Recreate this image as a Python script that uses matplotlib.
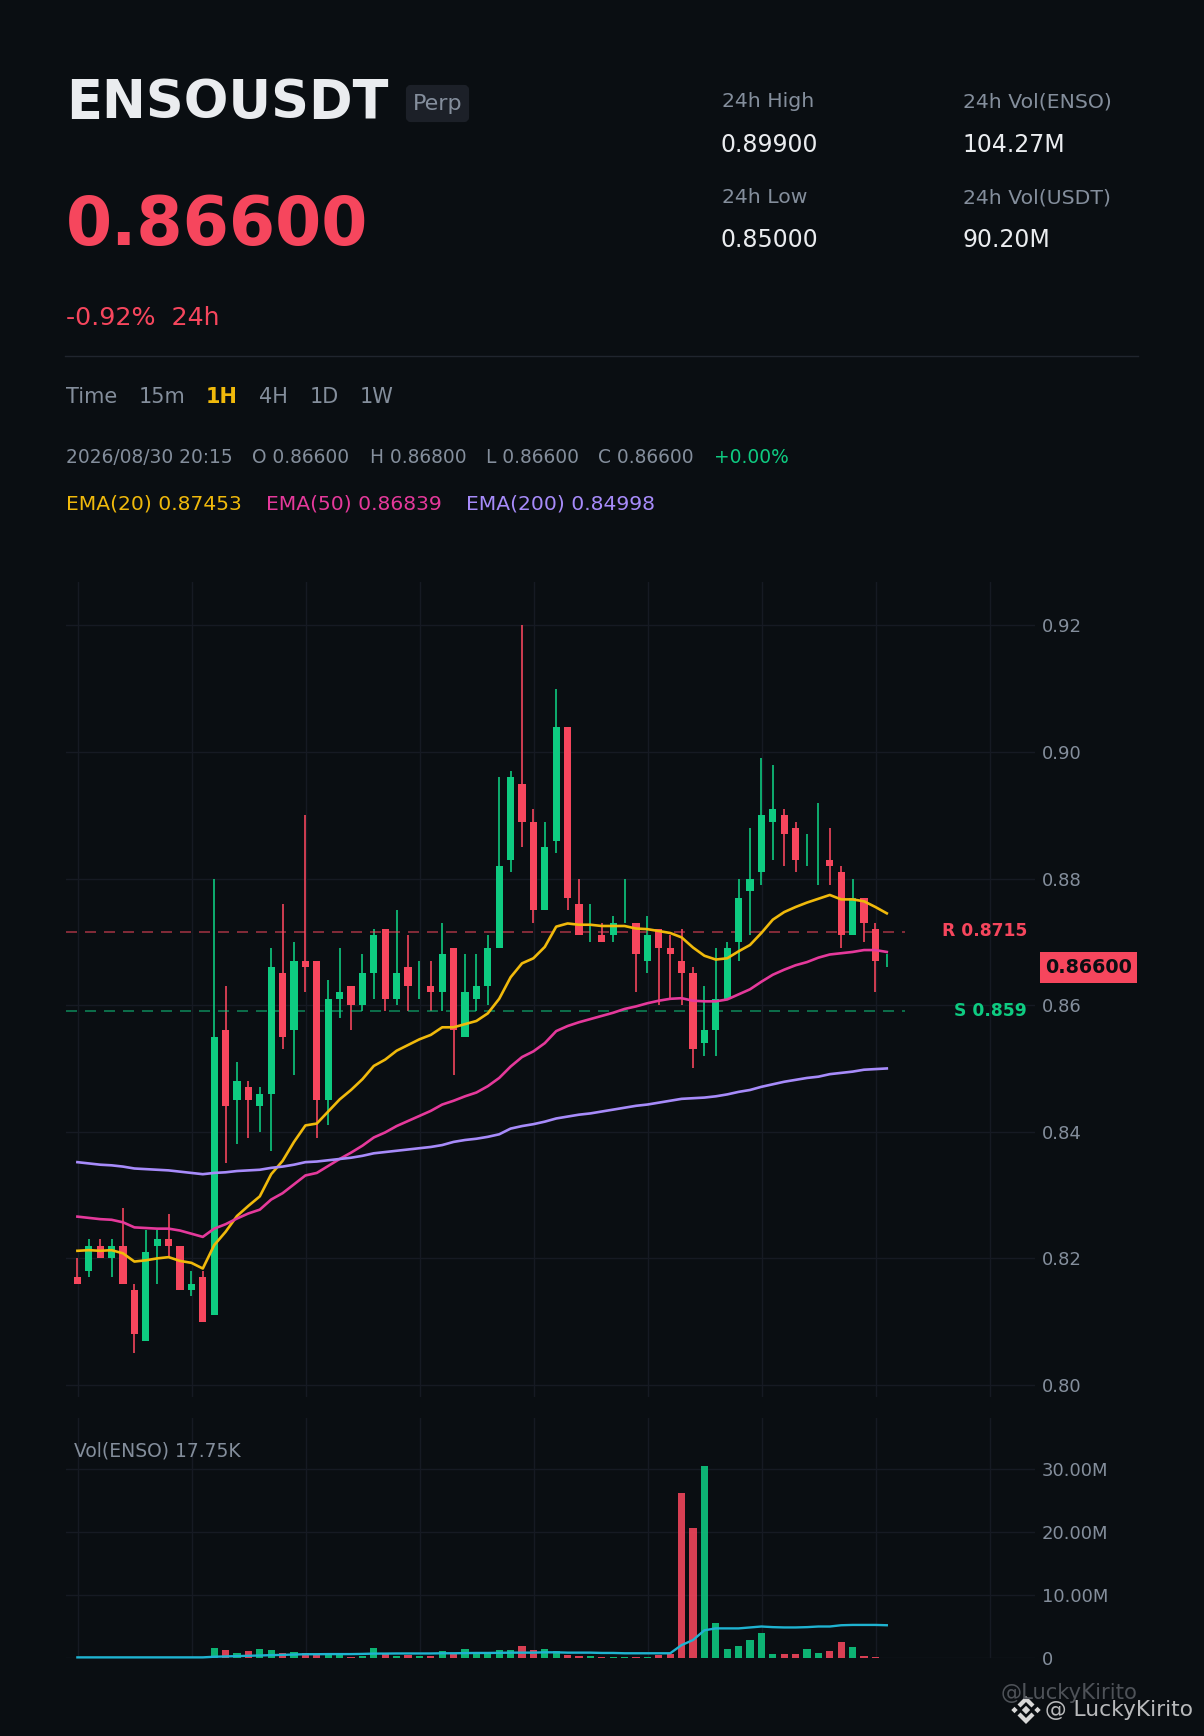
import numpy as np
import matplotlib
matplotlib.use('Agg')
import matplotlib.pyplot as plt
from matplotlib.patches import FancyBboxPatch, Rectangle, Polygon

# candles
opens = [.817, .818, .822, .820, .822, .815, .807, .822, .823, .822, .815, .817, .811, .856, .845, .847, .844, .846,
         .865, .856, .867, .867, .845, .861, .863, .860, .865, .872, .861, .866, .864, .863, .862, .869, .855, .861,
         .863, .869, .883, .895, .889, .875, .886, .904, .876, .873, .871, .871, .876, .873, .867, .872, .869, .867,
         .865, .854, .856, .861, .870, .878, .881, .889, .890, .888, .884, .885, .883, .881, .871, .877, .872, .866]
closes = [.816, .822, .820, .822, .816, .808, .821, .823, .822, .815, .816, .810, .855, .844, .848, .845, .846, .866,
          .855, .867, .866, .845, .861, .862, .860, .865, .871, .861, .865, .863, .864, .862, .868, .856, .862, .863,
          .869, .882, .896, .889, .875, .885, .904, .877, .871, .873, .870, .873, .876, .868, .871, .869, .868, .865,
          .853, .856, .861, .869, .877, .880, .890, .891, .887, .883, .884, .885, .882, .871, .877, .873, .867, .866]
highs = [.820, .823, .823, .823, .828, .816, .8245, .8245, .827, .822, .818, .818, .880, .863, .851, .848, .847, .869,
         .876, .870, .890, .867, .864, .869, .863, .868, .872, .872, .875, .871, .867, .867, .873, .869, .868, .868,
         .871, .896, .897, .920, .891, .889, .910, .904, .880, .876, .873, .874, .880, .873, .874, .872, .871, .872,
         .866, .863, .869, .870, .880, .888, .899, .898, .891, .889, .887, .892, .888, .882, .880, .877, .873, .868]
lows = [.816, .817, .820, .817, .816, .805, .807, .816, .820, .815, .814, .810, .811, .835, .838, .839, .840, .837,
        .853, .849, .862, .839, .841, .858, .856, .859, .861, .859, .860, .859, .861, .859, .859, .849, .855, .859,
        .860, .869, .881, .885, .873, .875, .884, .875, .871, .870, .870, .870, .873, .862, .865, .860, .861, .860,
        .850, .852, .852, .861, .867, .871, .879, .883, .882, .881, .882, .879, .879, .869, .871, .870, .862, .866]
# candles with no body that still count as up
flat_up = [30, 45, 48, 64, 65, 71]

ema20 = [.8212, .8213, .8212, .8213, .8208, .8195, .8197, .8200, .8202, .8196, .8193, .8184, .8221, .8242, .8267,
         .8283, .8298, .8333, .8354, .8384, .8410, .8413, .8432, .8451, .8466, .8483, .8504, .8514, .8528, .8537,
         .8546, .8553, .8565, .8565, .8570, .8575, .8587, .8610, .8644, .8666, .8674, .8692, .8724, .8729, .8727,
         .8727, .8725, .8725, .8725, .8721, .8720, .8717, .8714, .8707, .8691, .8678, .8672, .8674, .8685, .8695,
         .8714, .8735, .8747, .8755, .8762, .8768, .8774, .8767, .8767, .8764, .8755, .8745]
ema50 = [.8266, .8264, .8262, .8261, .8257, .8249, .8248, .8247, .8247, .8244, .8239, .8234, .8247, .8254, .8263,
         .8271, .8277, .8293, .8303, .8317, .8331, .8335, .8346, .8357, .8367, .8378, .8391, .8399, .8409, .8417,
         .8425, .8433, .8443, .8449, .8456, .8462, .8472, .8485, .8503, .8518, .8527, .8540, .8559, .8567, .8573,
         .8578, .8583, .8588, .8594, .8598, .8603, .8607, .8610, .8611, .8607, .8606, .8606, .8609, .8617, .8625,
         .8637, .8648, .8656, .8663, .8668, .8675, .8680, .8682, .8684, .8687, .8687, .8684]
ema200 = [.8352, .8350, .8348, .8347, .8345, .8342, .8341, .8340, .8339, .8337, .8335, .8333, .8335, .8336, .8338,
          .8339, .8340, .8343, .8345, .8348, .8352, .8353, .8355, .8357, .8359, .8362, .8366, .8368, .8370, .8372,
          .8374, .8376, .8379, .8384, .8387, .8389, .8392, .8396, .8405, .8409, .8412, .8416, .8421, .8424, .8427,
          .8429, .8432, .8435, .8438, .8441, .8443, .8446, .8449, .8452, .8453, .8454, .8456, .8459, .8463, .8466,
          .8471, .8475, .8479, .8482, .8485, .8487, .8491, .8493, .8495, .8498, .8499, .8500]

# volume in millions
volume = [.05, .05, .05, .05, .05, .05, .05, .05, .05, .05, .05, .05, 1.6, 1.3, .8, 1.1, 1.4, 1.3, .8, .95, .8, .5,
          .5, .5, .15, .3, 1.6, .8, .3, .5, .3, .3, 1.1, .8, 1.4, .95, .8, 1.3, 1.3, 1.9, 1.3, 1.4, 1.1, .5, .3, .3,
          .15, .15, .15, .15, .15, .5, .6, 26.2, 20.6, 30.5, 5.55, 1.4, 1.9, 2.85, 4.0, .6, .6, .6, 1.4, .8, 1.1, 2.5,
          1.75, .3, .15, .018]
vol_ma = [.1, .1, .1, .1, .1, .1, .1, .1, .1, .1, .1, .1, .2, .25, .3, .35, .4, .45, .5, .55, .6, .6, .62, .62, .62,
          .65, .7, .7, .72, .72, .72, .72, .75, .75, .78, .8, .8, .82, .85, .85, .85, .9, .9, .85, .85, .85, .8, .8,
          .75, .75, .75, .75, .75, 2.05, 2.85, 4.4, 4.7, 4.7, 4.7, 4.85, 5.0, 4.9, 4.85, 4.85, 4.9, 5.0, 5.0, 5.2,
          5.25, 5.25, 5.25, 5.2]

price_ticks = [0.80, 0.82, 0.84, 0.86, 0.88, 0.90, 0.92]
vol_ticks = [0, 10, 20, 30]
vol_labels = ['0', '10.00M', '20.00M', '30.00M']
resistance = 0.8715
support = 0.859

BG = '#0a0e12'
GRID = '#161a23'
GREEN = '#0ecb81'
RED = '#f6465d'
GREY = '#848e9c'
YELLOW = '#f0b90b'
PINK = '#e5399b'
PURPLE = '#a78bfa'
CYAN = '#1fb3d1'

W, H = 1204, 1736
fig = plt.figure(figsize=(W / 100, H / 100), dpi=100, facecolor=BG)


def make_axes(left, top, right, bottom):
    ax = fig.add_axes([left / W, 1 - bottom / H, (right - left) / W, (bottom - top) / H], facecolor=BG)
    for s in ax.spines.values():
        s.set_visible(False)
    ax.set_xlim(-1.08, 83.92)
    ax.set_xticks(range(0, 90, 10))
    ax.grid(True, color=GRID, lw=1.0)
    ax.set_axisbelow(True)
    ax.yaxis.tick_right()
    ax.tick_params(length=0, labelbottom=False, labelsize=13, labelcolor=GREY, pad=5)
    return ax


# candles sit a hair left of the grid lines in the original
x = np.arange(len(opens)) - 0.08
o, c, h, l = map(np.array, (opens, closes, highs, lows))
up = (c > o) | np.isin(np.arange(len(o)), flat_up)
candle_colors = np.where(up, GREEN, RED)

# price pane
ax = make_axes(66, 582, 1035, 1397)
ax.set_ylim(0.79811, 0.92683)
ax.set_yticks(price_ticks)
ax.set_yticklabels([f'{t:.2f}' for t in price_ticks])

ax.vlines(x, l, h, colors=candle_colors, lw=1.44, alpha=0.82, zorder=2)
ax.bar(x, np.abs(c - o), bottom=np.minimum(o, c), width=0.62, color=candle_colors, zorder=3)

for val, col in ((resistance, RED), (support, GREEN)):
    ax.plot([-1.08, 72.5], [val, val], color=col, lw=1.44, alpha=0.5, ls=(0, (5.5, 4)), dash_capstyle='butt', zorder=2.5)

ax.plot(x, ema20, color=YELLOW, lw=1.9, zorder=4)
ax.plot(x, ema50, color=PINK, lw=1.9, zorder=4)
ax.plot(x, ema200, color=PURPLE, lw=1.9, zorder=4)

# volume pane
vax = make_axes(66, 1418, 1035, 1658)
vax.set_ylim(0, 38.1)
vax.set_yticks(vol_ticks)
vax.set_yticklabels(vol_labels)
vax.bar(x, volume, width=0.62, color=candle_colors, alpha=0.88, zorder=3)
vax.plot(x, vol_ma, color=CYAN, lw=1.7, zorder=4, clip_on=False)

# everything outside the panes, in pixels of the picture
ov = fig.add_axes([0, 0, 1, 1])
ov.set_xlim(0, W)
ov.set_ylim(H, 0)
ov.axis('off')


def txt(px, py, s, size, color=GREY, weight='normal', ha='left', va='baseline'):
    ov.text(px, py, s, fontsize=size, color=color, fontweight=weight, ha=ha, va=va)


txt(66, 118, 'ENSOUSDT', 37.8, '#eaecef', 'bold')
ov.add_patch(FancyBboxPatch((408, 87), 59, 33, boxstyle='round,pad=0,rounding_size=3', fc='#1c2028', ec='#1c2028', lw=3))
txt(437.5, 103.5, 'Perp', 16, GREY, ha='center', va='center')
txt(66, 245, '0.86600', 47.9, RED, 'bold')
txt(66, 325, '-0.92%  24h', 18.2, RED)
ov.plot([65, 1138], [355.5, 355.5], color='#20252e', lw=1.0)

txt(722, 107, '24h High', 14.7, GREY)
txt(721, 152, '0.89900', 17, '#eaecef')
txt(963, 107, '24h Vol(ENSO)', 14.65, GREY)
txt(962.5, 152, '104.27M', 17, '#eaecef')
txt(722, 203, '24h Low', 14.7, GREY)
txt(721, 247, '0.85000', 17, '#eaecef')
txt(963, 203, '24h Vol(USDT)', 14.65, GREY)
txt(962.5, 247, '90.20M', 17, '#eaecef')

for px, s in ((66.5, 'Time'), (139, '15m'), (259.5, '4H'), (310, '1D'), (360, '1W')):
    txt(px, 403, s, 15, GREY)
txt(206, 403, '1H', 15, YELLOW, 'bold')

for px, s in ((66.5, '2026/08/30 20:15'), (252, 'O 0.86600'), (370, 'H 0.86800'), (485.5, 'L 0.86600'), (598, 'C 0.86600')):
    txt(px, 462.7, s, 13.4, GREY)
txt(713.5, 462.7, '+0.00%', 13.4, GREEN)

txt(66.5, 510, 'EMA(20) 0.87453', 14.55, YELLOW)
txt(266, 510, 'EMA(50) 0.86839', 14.55, PINK)
txt(466.5, 510, 'EMA(200) 0.84998', 14.55, PURPLE)

txt(1027, 931, 'R 0.8715', 12.3, RED, 'bold', ha='right', va='center')
txt(1027, 1011, 'S 0.859', 12.3, GREEN, 'bold', ha='right', va='center')

ov.add_patch(Rectangle((1040, 952), 97, 31, fc=RED, ec='none'))
txt(1088.5, 967.5, '0.86600', 13.8, BG, 'bold', ha='center', va='center')

txt(74, 1451, 'Vol(ENSO) 17.75K', 13.5, GREY, va='center')

txt(1001, 1693, '@LuckyKirito', 15.2, '#4e5258', va='center')
txt(1045, 1710, '@ LuckyKirito', 15.7, '#b8b9bb', va='center')

# small exchange mark beside the handle
cx, cy = 1026, 1710
LOGO = '#d8d8d8'
for dx, r in ((0, 4.2), (-11.5, 3.2), (11.5, 3.2)):
    ov.add_patch(Polygon([(cx + dx - r, cy), (cx + dx, cy - r), (cx + dx + r, cy), (cx + dx, cy + r)], fc=LOGO, ec='none'))
for sign in (-1, 1):
    ov.add_patch(Polygon([(cx - 8.5, cy + sign * 5.5), (cx, cy + sign * 14), (cx + 8.5, cy + sign * 5.5), (cx + 5.5, cy + sign * 2.5),
                          (cx, cy + sign * 8), (cx - 5.5, cy + sign * 2.5)], fc=LOGO, ec='none'))

fig.savefig('out.png', dpi=100, facecolor=BG)
